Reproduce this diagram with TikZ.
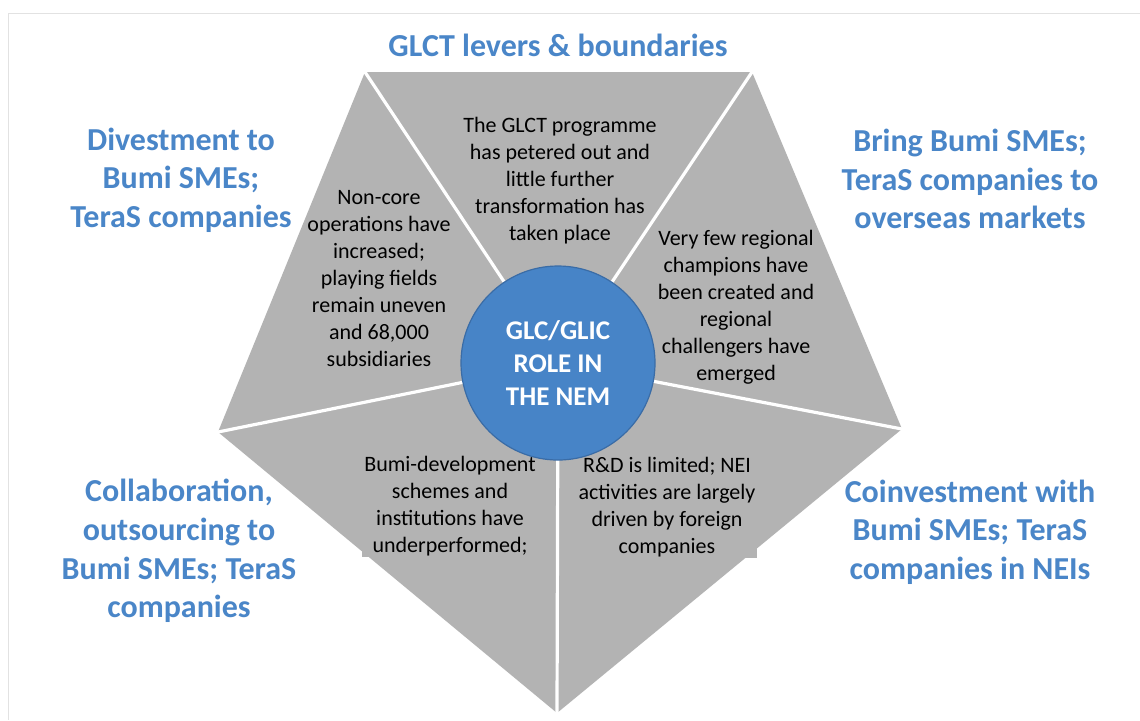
\documentclass[tikz,border=0pt]{standalone}
\usepackage{fontspec}
\setmainfont{Carlito}
\definecolor{panelgray}{HTML}{B3B3B3}
\definecolor{leverblue}{HTML}{4A86C8}
\definecolor{hubblue}{HTML}{4784C7}
\definecolor{hubedge}{HTML}{3A6CA6}
\definecolor{framegray}{HTML}{E2E2E2}
\begin{document}
\begin{tikzpicture}[x=0.5pt,y=-0.5pt,
  lever/.style={align=center, text=leverblue, inner sep=0pt,
    font=\fontsize{16}{19.3}\selectfont\bfseries},
  finding/.style={align=center, inner sep=0pt,
    font=\fontsize{11}{13.5}\selectfont},
  boxed/.style={fill=panelgray, inner xsep=1pt, inner ysep=0.5pt},
  divider/.style={white, line width=1.6pt, shorten >=-2pt}]
\useasboundingbox (0,0) rectangle (1140,720);
\fill[white] (0,0) rectangle (1140,720);
% thin frame on the top and left
\draw[framegray, line width=0.8pt] (8.5,720) -- (8.5,13.5) -- (1140,13.5);

% pentagon corners and hub
\coordinate (tl) at (365,72);
\coordinate (tr) at (752,72);
\coordinate (r)  at (902,429);
\coordinate (b)  at (557,713);
\coordinate (l)  at (218,432);
\coordinate (c)  at (558,363);

\fill[panelgray] (tl) -- (tr) -- (r) -- (b) -- (l) -- cycle;
\foreach \v in {tl,tr,r,b,l} \draw[divider] (c) -- (\v);

% findings inside the five segments
\node[finding] (top) at (560,181)
  {The GLCT programme\\has petered out and\\little further\\transformation has\\taken place};
\node[finding] (upleft) at (379,279)
  {Non-core\\operations have\\increased;\\playing fields\\remain uneven\\and 68,000\\subsidiaries};
\node[finding] (upright) at (736,307)
  {Very few regional\\champions have\\been created and\\regional\\challengers have\\emerged};
\node[finding, boxed] (lowleft) at (450,506)
  {Bumi-development\\schemes and\\institutions have\\underperformed;};
\node[finding, boxed] (lowright) at (667,507)
  {R\&D is limited; NEI\\activities are largely\\driven by foreign\\companies};

% hub
\node[circle, fill=hubblue, draw=hubedge, line width=0.6pt, minimum size=97pt,
  inner sep=0pt, text=white, align=center,
  font=\fontsize{13.5}{16.3}\selectfont\bfseries] (hub) at (c)
  {GLC/GLIC\\ROLE IN\\THE NEM};

% levers around the pentagon
\node[lever] (levtop) at (558,45) {GLCT levers \& boundaries};
\node[lever] (levul) at (181,180) {Divestment to\\Bumi SMEs;\\TeraS companies};
\node[lever] (levur) at (970,179) {Bring Bumi SMEs;\\TeraS companies to\\overseas markets};
\node[lever] (levll) at (179,551) {Collaboration,\\outsourcing to\\Bumi SMEs; TeraS\\companies};
\node[lever] (levlr) at (970,532) {Coinvestment with\\Bumi SMEs; TeraS\\companies in NEIs};
\end{tikzpicture}
\end{document}
